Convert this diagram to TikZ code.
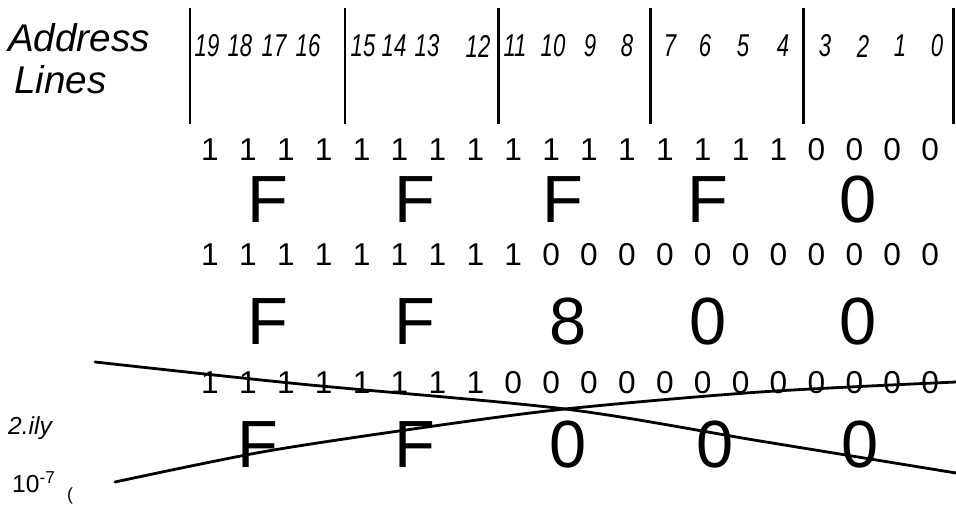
\documentclass[tikz,border=0pt]{standalone}
\usepackage{fontspec}
\setmainfont{Liberation Sans}

\tikzset{
  hdr/.style={font=\fontsize{18}{18}\selectfont\itshape, xscale=0.7},
  bit/.style={font=\fontsize{18}{18}\selectfont},
  hex/.style={font=\fontsize{38}{38}\selectfont},
  bar/.style={line width=1.7pt},
  strike/.style={line width=1.6pt, line cap=round}
}

\begin{document}
\begin{tikzpicture}[x=0.02cm,y=-0.02cm]

   \useasboundingbox (0,0) rectangle (956,506);

   % title
   \node[anchor=west,font=\fontsize{22}{22}\selectfont\itshape] (addr) at (2,38) {Address};
   \node[anchor=west,font=\fontsize{22}{22}\selectfont\itshape] (lines) at (8,80) {Lines};

   % group bars
   \foreach \x in {190,345,498,650,803,953}
      \draw[bar] (\x,8) -- (\x,124);

   % address line numbers
   \foreach \x/\n in {207/19,240/18,274/17,308/16,363/15,394/14,427/13,478/12,
                      515/11,553/10,590/9,627/8,670/7,705/6,743/5,783/4,
                      825/3,863/2,900/1,937/0}
      \node[hdr] (h\n) at (\x,46) {\n};

   % bit rows: first \k bits are 1
   \foreach \y/\k in {150/16,255/9,383/8}
      \foreach \i in {0,...,19}{
         \pgfmathsetmacro{\b}{int(\i<\k)}
         \node[bit] (b\y-\i) at (210+37.9*\i,\y) {\b};
      }

   % hex values
   \foreach \x/\d [count=\j] in {268/F,415/F,563/F,708/F,858/0}
      \node[hex] (p\j) at (\x,200) {\d};
   \foreach \x/\d [count=\j] in {268/F,415/F,568/8,708/0,858/0}
      \node[hex] (q\j) at (\x,322) {\d};
   \foreach \x/\d [count=\j] in {258/F,415/F,568/0,715/0,860/0}
      \node[hex] (r\j) at (\x,445) {\d};

   % crossed out
   \draw[strike] plot[smooth] coordinates {(95,362) (300,384) (565,409) (760,441) (956,473)};
   \draw[strike] plot[smooth] coordinates {(115,482) (262,452) (420,428) (565,409) (760,392) (956,382)};

   % margin notes
   \node[font=\fontsize{14}{14}\selectfont\itshape] (n1) at (30,428) {2.ily};
   \node[font=\fontsize{14}{14}\selectfont] (n2) at (34,482) {10\textsuperscript{-7}};
   \node[font=\fontsize{10}{10}\selectfont,inner sep=1pt] (n3) at (70,496) {(};

\end{tikzpicture}
\end{document}
